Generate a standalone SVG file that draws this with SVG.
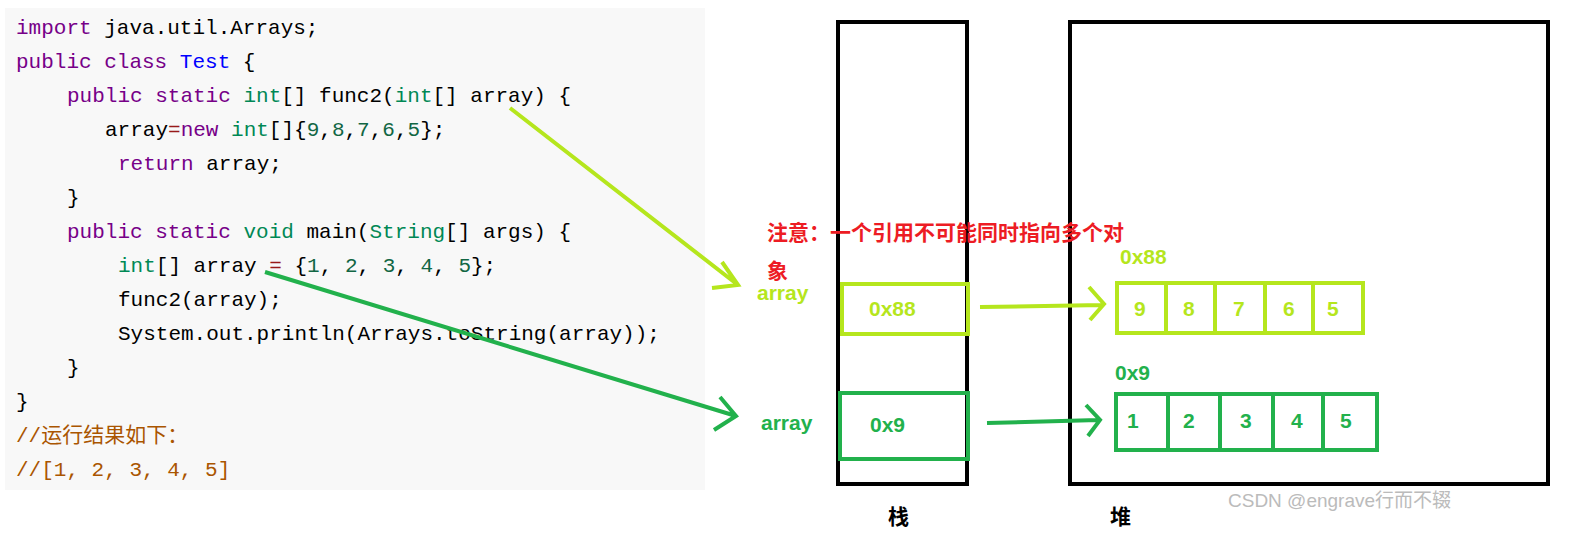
<svg xmlns="http://www.w3.org/2000/svg" width="1594" height="540" viewBox="0 0 1594 540">
<style>
.c{font-family:"Liberation Mono",monospace;font-size:21px;fill:#000}
.k{fill:#770088}.t{fill:#008855}.b{fill:#0000ff}.n{fill:#116644}.o{fill:#981a1a}.cm{fill:#aa5500}
.l{font-family:"Liberation Sans","Noto Sans CJK SC",sans-serif;font-weight:bold;font-size:21px}
.lime{fill:#b5e61d}.grn{fill:#22b14c}
.sl{fill:none;stroke:#b5e61d;stroke-width:4}.sg{fill:none;stroke:#22b14c;stroke-width:4}
</style>
<rect width="1594" height="540" fill="#fff"/>
<g id="code">
<rect x="5" y="8" width="700" height="482" fill="#f8f8f8"/>
<text class="c" x="16" y="34"><tspan class="k">import</tspan> java.util.Arrays;</text>
<text class="c" x="16" y="68"><tspan class="k">public class</tspan> <tspan class="b">Test</tspan> {</text>
<text class="c" x="67" y="102"><tspan class="k">public static</tspan> <tspan class="t">int</tspan>[] func2(<tspan class="t">int</tspan>[] array) {</text>
<text class="c" x="105" y="136">array<tspan class="o">=</tspan><tspan class="k">new</tspan> <tspan class="t">int</tspan>[]{<tspan class="n">9</tspan>,<tspan class="n">8</tspan>,<tspan class="n">7</tspan>,<tspan class="n">6</tspan>,<tspan class="n">5</tspan>};</text>
<text class="c" x="118" y="170"><tspan class="k">return</tspan> array;</text>
<text class="c" x="67" y="204">}</text>
<text class="c" x="67" y="238"><tspan class="k">public static</tspan> <tspan class="t">void</tspan> main(<tspan class="t">String</tspan>[] args) {</text>
<text class="c" x="118" y="272"><tspan class="t">int</tspan>[] array <tspan class="o">=</tspan> {<tspan class="n">1</tspan>, <tspan class="n">2</tspan>, <tspan class="n">3</tspan>, <tspan class="n">4</tspan>, <tspan class="n">5</tspan>};</text>
<text class="c" x="118" y="306">func2(array);</text>
<text class="c" x="118" y="340">System.out.println(Arrays.toString(array));</text>
<text class="c" x="67" y="374">}</text>
<text class="c" x="16" y="408">}</text>
<text class="c cm" x="16" y="442" style="font-family:'Liberation Mono','Noto Sans CJK SC',monospace">//运行结果如下：</text>
<text class="c cm" x="16" y="476">//[1, 2, 3, 4, 5]</text>
</g>
<g id="stack">
<rect x="838" y="22" width="129" height="462" fill="none" stroke="#000" stroke-width="4"/>
<text class="l" x="888" y="524" fill="#000">栈</text>
</g>
<g id="heap">
<rect x="1070" y="22" width="478" height="462" fill="none" stroke="#000" stroke-width="4"/>
<text class="l" x="1110" y="524" fill="#000">堆</text>
</g>
<g id="note">
<text class="l" x="767" y="240" fill="#ed1c24">注意：一个引用不可能同时指向多个对</text>
<text class="l" x="767" y="278" fill="#ed1c24">象</text>
</g>
<g id="ref88">
<text class="l lime" x="757" y="300">array</text>
<rect x="842" y="284" width="126" height="50" class="sl"/>
<text class="l lime" x="869" y="316">0x88</text>
</g>
<g id="ref9">
<text class="l grn" x="761" y="430">array</text>
<rect x="840" y="393" width="128" height="66" class="sg"/>
<text class="l grn" x="870" y="432">0x9</text>
</g>
<g id="arr88">
<text class="l lime" x="1120" y="264">0x88</text>
<rect x="1117" y="283" width="246" height="50" class="sl"/>
<path d="M1166 283V333M1215 283V333M1265 283V333M1313 283V333" class="sl"/>
<text class="l lime" x="1134" y="316">9</text><text class="l lime" x="1183" y="316">8</text><text class="l lime" x="1233" y="316">7</text><text class="l lime" x="1283" y="316">6</text><text class="l lime" x="1327" y="316">5</text>
</g>
<g id="arr9">
<text class="l grn" x="1115" y="380">0x9</text>
<rect x="1116" y="394" width="261" height="56" class="sg"/>
<path d="M1168 394V450M1220 394V450M1273 394V450M1323 394V450" class="sg"/>
<text class="l grn" x="1127" y="428">1</text><text class="l grn" x="1183" y="428">2</text><text class="l grn" x="1240" y="428">3</text><text class="l grn" x="1291" y="428">4</text><text class="l grn" x="1340" y="428">5</text>
</g>
<g id="connectors">
<path d="M510 108L738 285M722 262L738 285L712 288" class="sl"/>
<path d="M265 272L736 416M720 397L736 416L714 430" class="sg"/>
<path d="M980 307L1102 305M1089 287L1104 304L1090 320" class="sl"/>
<path d="M987 423L1098 420M1086 405L1100 420L1088 436" class="sg"/>
</g>
<text x="1228" y="507" font-family="Liberation Sans,Noto Sans CJK SC,sans-serif" font-size="19" fill="#bbb">CSDN @engrave行而不辍</text>
</svg>
